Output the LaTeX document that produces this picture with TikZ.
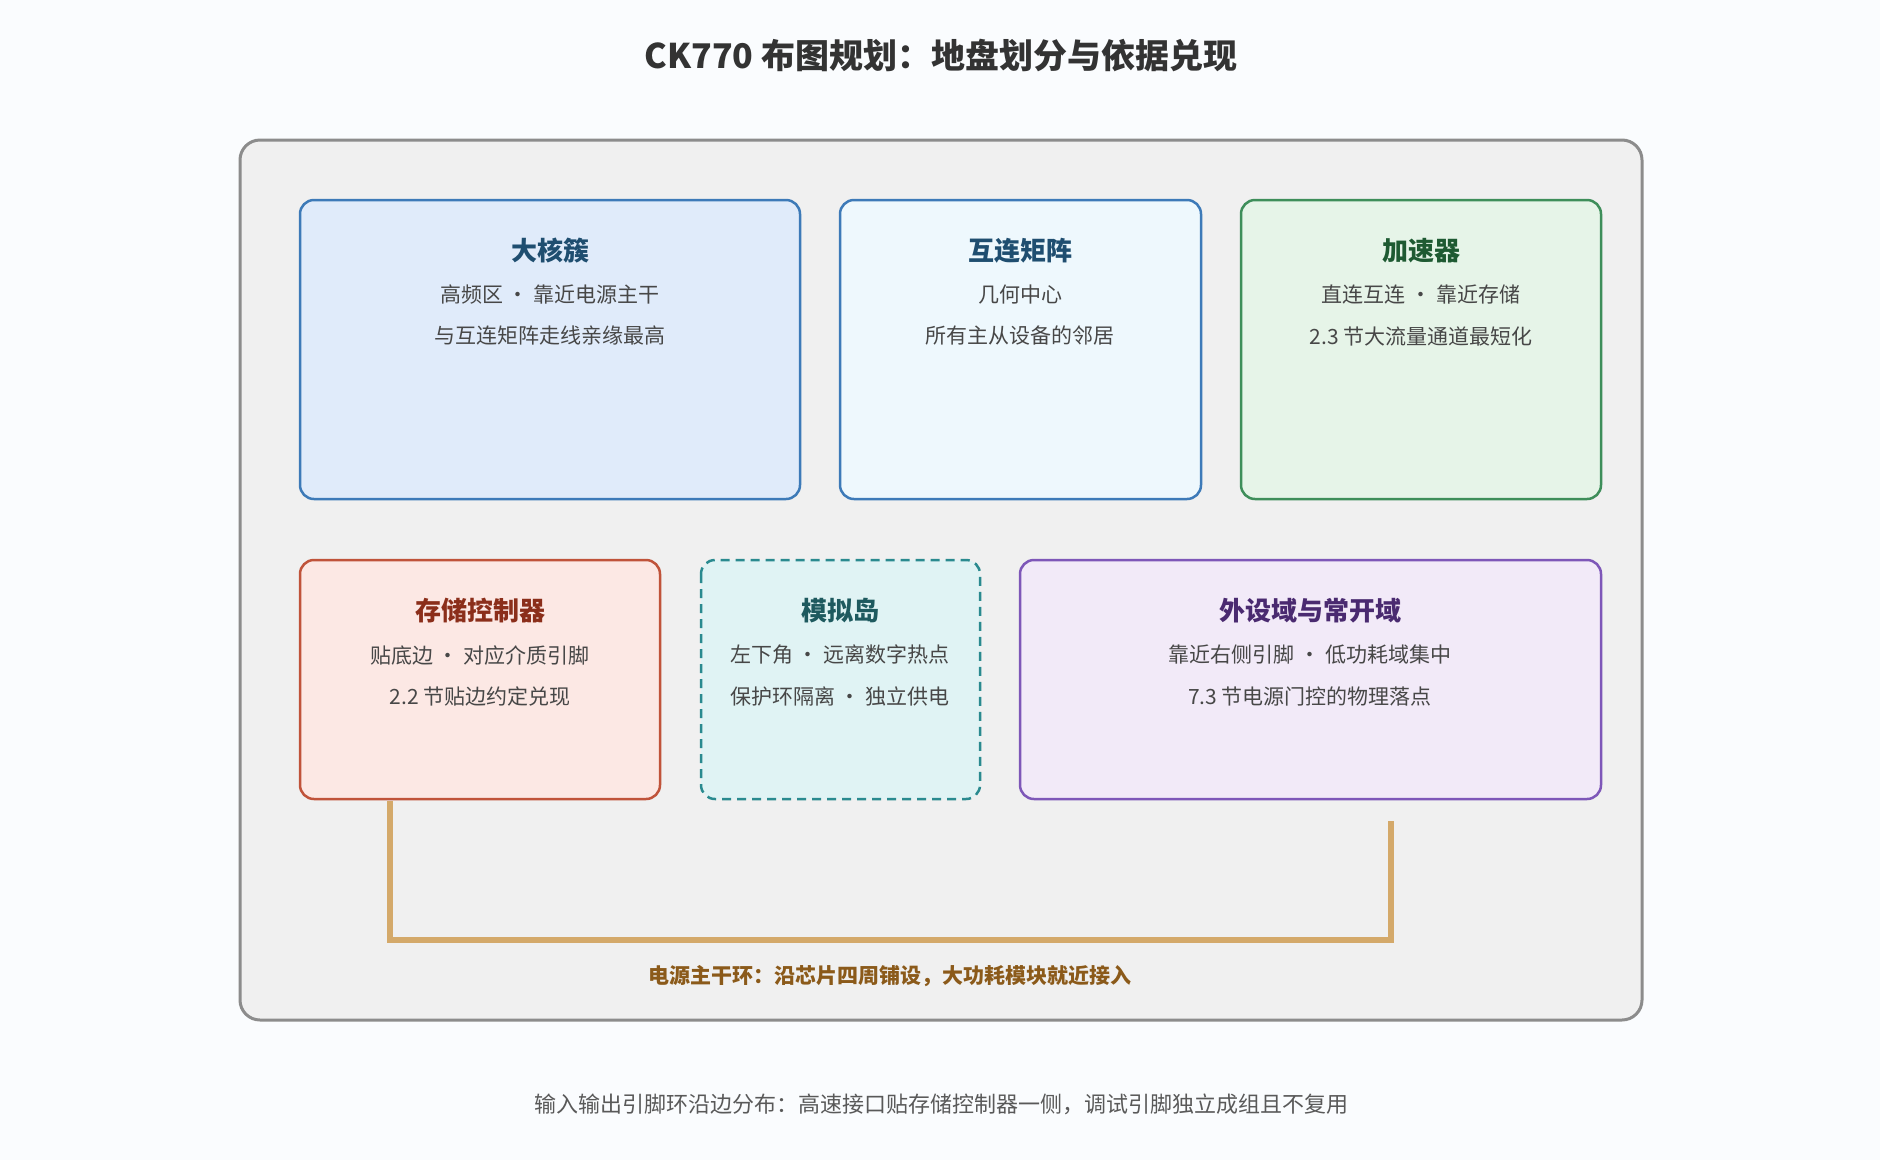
\documentclass[tikz,border=0pt]{standalone}
\usepackage{fontspec}
\setmainfont{Noto Sans CJK SC}
\begin{document}
\begin{tikzpicture}[x=1pt,y=-1pt,
  box/.style={draw, line width=2.5pt, rounded corners=14pt},
  hd/.style={font=\fontsize{26}{30}\selectfont\bfseries},
  bd/.style={font=\fontsize{21}{26}\selectfont, text=black!72},
]
\definecolor{bgc}{HTML}{FAFCFE}
\fill[bgc] (0,0) rectangle (1880,1160);
\useasboundingbox (0,0) rectangle (1880,1160);
\node[font=\fontsize{34}{40}\selectfont\bfseries, text=black!80] (title) at (941,56) {CK770 布图规划：地盘划分与依据兑现};
\draw[box, draw=black!45, fill=black!6, line width=3pt, rounded corners=20pt] (240,140) rectangle (1642,1020);
\coordinate (outer) at (941,580);
% row 1
\draw[box, draw={rgb,255:red,61;green,122;blue,184}, fill={rgb,255:red,224;green,235;blue,250}] (300,200) rectangle (800,499);
\node[hd, text={rgb,255:red,31;green,78;blue,112}] (t1) at (550,251) {大核簇};
\node[bd] (a1) at (550,295) {高频区 · 靠近电源主干};
\node[bd] (b1) at (550,336) {与互连矩阵走线亲缘最高};
\draw[box, draw={rgb,255:red,61;green,122;blue,184}, fill={rgb,255:red,238;green,248;blue,253}] (840,200) rectangle (1201,499);
\node[hd, text={rgb,255:red,31;green,78;blue,112}] (t2) at (1020,251) {互连矩阵};
\node[bd] (a2) at (1020,295) {几何中心};
\node[bd] (b2) at (1020,336) {所有主从设备的邻居};
\draw[box, draw={rgb,255:red,62;green,142;blue,90}, fill={rgb,255:red,230;green,244;blue,232}] (1241,200) rectangle (1601,499);
\node[hd, text={rgb,255:red,30;green,90;blue,50}] (t3) at (1421,251) {加速器};
\node[bd] (a3) at (1421,295) {直连互连 · 靠近存储};
\node[bd] (b3) at (1421,336) {2.3 节大流量通道最短化};
% row 2
\draw[box, draw={rgb,255:red,192;green,83;blue,58}, fill={rgb,255:red,252;green,232;blue,228}] (300,560) rectangle (660,799);
\node[hd, text={rgb,255:red,139;green,46;blue,26}] (t4) at (480,611) {存储控制器};
\node[bd] (a4) at (480,655) {贴底边 · 对应介质引脚};
\node[bd] (b4) at (480,696) {2.2 节贴边约定兑现};
\draw[box, dashed, dash pattern=on 9pt off 6pt, draw={rgb,255:red,42;green,138;blue,143}, fill={rgb,255:red,224;green,243;blue,244}] (701,560) rectangle (980,799);
\node[hd, text={rgb,255:red,30;green,90;blue,95}] (t5) at (840,611) {模拟岛};
\node[bd] (a5) at (840,655) {左下角 · 远离数字热点};
\node[bd] (b5) at (840,696) {保护环隔离 · 独立供电};
\draw[box, draw={rgb,255:red,126;green,87;blue,184}, fill={rgb,255:red,242;green,234;blue,248}] (1020,560) rectangle (1601,799);
\node[hd, text={rgb,255:red,74;green,42;blue,112}] (t6) at (1310,611) {外设域与常开域};
\node[bd] (a6) at (1310,655) {靠近右侧引脚 · 低功耗域集中};
\node[bd] (b6) at (1310,696) {7.3 节电源门控的物理落点};
% power ring
\coordinate (p1) at (390,801);
\coordinate (p2) at (1391,821);
\draw[line width=6pt, draw={rgb,255:red,212;green,169;blue,106}] (p1) -- (390,940) -- (1391,940) -- (p2);
\node[font=\fontsize{21}{26}\selectfont\bfseries, text={rgb,255:red,139;green,90;blue,26}] (pl) at (890,976) {电源主干环：沿芯片四周铺设，大功耗模块就近接入};
\node[font=\fontsize{22}{26}\selectfont, text=black!65] (foot) at (941,1104) {输入输出引脚环沿边分布：高速接口贴存储控制器一侧，调试引脚独立成组且不复用};
\end{tikzpicture}
\end{document}
